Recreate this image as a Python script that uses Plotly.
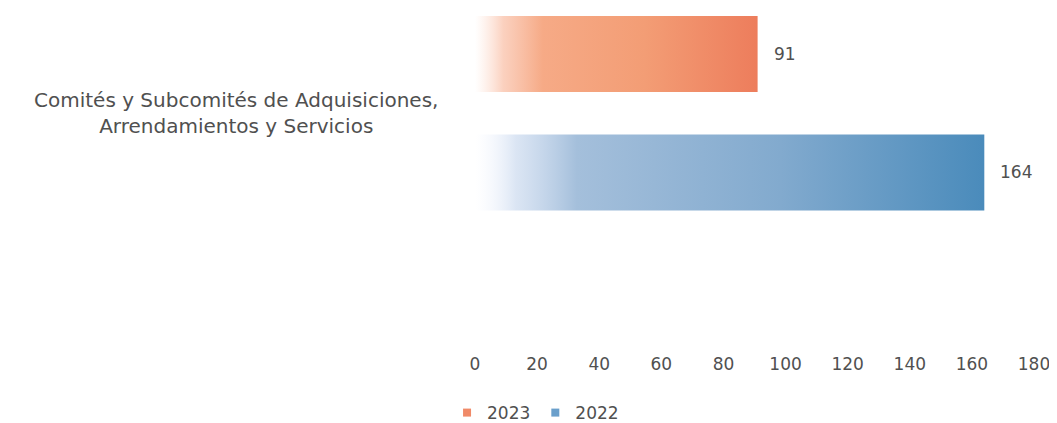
import plotly.graph_objects as go

category = "Comités y Subcomités de Adquisiciones,<br>Arrendamientos y Servicios"
series = ["2023", "2022"]
values = [91, 164]
positions = [1, 0]
tick_vals = [0, 20, 40, 60, 80, 100, 120, 140, 160, 180]

solid_colors = {"2023": "#F08A68", "2022": "#6A9FCB"}
gradients = {
    "2023": [[0, "rgba(252,205,185,0)"], [0.1, "rgba(248,178,148,0.6)"], [0.24, "#F6AA86"],
             [0.6, "#F39D75"], [1, "#ED7D5C"]],
    "2022": [[0, "rgba(235,240,255,0)"], [0.08, "rgba(195,212,236,0.6)"], [0.2, "#A4BFDB"],
             [0.6, "#82AACE"], [1, "#4A8BBB"]],
}

FONT = "'DejaVu Sans', sans-serif"
TEXT = "#505050"
half = 0.32

fig = go.Figure()
for name, v, p in zip(series, values, positions):
    fig.add_trace(go.Scatter(
        x=[0, v, v, 0, 0], y=[p - half, p - half, p + half, p + half, p - half],
        mode="none", fill="toself",
        fillgradient=dict(type="horizontal", colorscale=gradients[name]),
        showlegend=False, hoverinfo="skip",
    ))
    fig.add_annotation(x=v, y=p, text=str(v), showarrow=False, xanchor="left",
                       xshift=14, font=dict(family=FONT, size=17, color=TEXT))
    fig.add_trace(go.Scatter(
        x=[None], y=[None], mode="markers", name=name,
        marker=dict(symbol="square", size=8, color=solid_colors[name]),
    ))

fig.add_annotation(xref="paper", x=-0.0626, y=0.5, text=category, showarrow=False,
                   xanchor="right", align="center",
                   font=dict(family=FONT, size=20, color=TEXT))

fig.update_layout(
    width=1049, height=415,
    margin=dict(l=467, r=23, t=0, b=71, autoexpand=False),
    paper_bgcolor="white", plot_bgcolor="white",
    xaxis=dict(range=[0, 180], tickvals=tick_vals, showgrid=False, zeroline=False,
               showline=False, ticks="", tickfont=dict(family=FONT, size=17, color=TEXT)),
    yaxis=dict(range=[-1.515, 1.388], showticklabels=False, showgrid=False,
               zeroline=False, showline=False),
    legend=dict(orientation="h", x=-0.05, xanchor="left", yref="container",
                y=0.024, yanchor="middle",
                font=dict(family=FONT, size=17, color=TEXT), itemwidth=30,
                tracegroupgap=0),
    showlegend=True,
)

fig.write_html("out.html")
